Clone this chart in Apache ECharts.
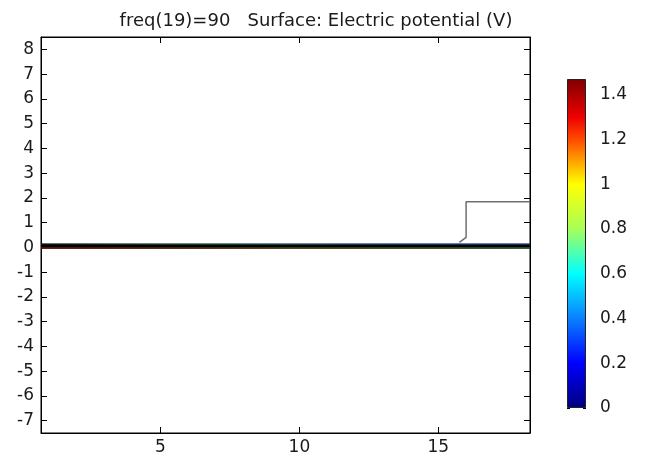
<!DOCTYPE html>
<html><head><meta charset="utf-8">
<script src="https://cdn.jsdelivr.net/npm/echarts@6/dist/echarts.min.js"></script>
<style>html,body{margin:0;padding:0;background:#fff}#c{width:647px;height:461px}</style>
</head><body><div id="c"></div>
<script>
// ---- data ----
const titleText = 'freq(19)=90   Surface: Electric potential (V)';
const xRange = [0.7, 18.3];
const yRange = [-7.5, 8.5];
const xTicks = [5, 10, 15];
const yTicks = [-7, -6, -5, -4, -3, -2, -1, 0, 1, 2, 3, 4, 5, 6, 7, 8];
// boundary polyline (gray) [x, y]
const boundaryX = [15.76, 16.0, 16.0, 18.3];
const boundaryY = [0.2, 0.4, 1.84, 1.84];
// thin surface strip along y = 0
const stripX = [0.7, 18.3];
const stripTopY = [0.13, 0.13];
const stripMidY = [0.05, 0.05];
const stripBotY = [-0.03, -0.03];
// colour bar
const cbMin = 0, cbMax = 1.47;
const cbTicks = [0, 0.2, 0.4, 0.6, 0.8, 1, 1.2, 1.4];
const cbStopValues = [0, 0.2, 0.4, 0.6, 0.8, 1.0, 1.2, 1.3, 1.47];
const cbStopColors = ['#00007f', '#0000ff', '#0a80ff', '#00ffff', '#a8ff58', '#ffff00', '#ff4a00', '#ee0000', '#7f0000'];

const chart = echarts.init(document.getElementById('c'), null, {renderer: 'canvas'});
const font = 'DejaVu Sans';
const txt = '#1a1a1a';
const pairs = (xs, ys) => xs.map((x, i) => [x, ys[i]]);

const gradH = (cols) => new echarts.graphic.LinearGradient(0, 0, 1, 0,
  cols.map((c, i) => ({offset: i / (cols.length - 1), color: c})));
const gradV = new echarts.graphic.LinearGradient(0, 1, 0, 0,
  cbStopValues.map((v, i) => ({offset: (v - cbMin) / (cbMax - cbMin), color: cbStopColors[i]})));

const tick = (vals, len) => ({show: true, inside: true, length: len, lineStyle: {color: '#000'}, customValues: vals});
const line = {show: true, onZero: false, lineStyle: {color: '#000'}};

chart.setOption({
  animation: false,
  title: {text: titleText, left: 311, textAlign: 'center', top: 7,
    textStyle: {fontFamily: font, fontSize: 18, fontWeight: 'normal', color: txt}},
  grid: [
    {left: 41, top: 37, width: 489, height: 396, show: true, borderColor: '#000', borderWidth: 1, backgroundColor: '#fff'},
    {left: 567, top: 79, width: 19, height: 329, show: false}
  ],
  xAxis: [
    {gridIndex: 0, type: 'value', min: xRange[0], max: xRange[1],
      axisLine: line, axisTick: tick(xTicks, 6),
      axisLabel: {margin: 6, fontFamily: font, fontSize: 17, color: txt, customValues: xTicks},
      splitLine: {show: false}},
    {gridIndex: 0, type: 'value', position: 'top', min: xRange[0], max: xRange[1],
      axisLine: line, axisTick: tick(xTicks, 6),
      axisLabel: {show: false}, splitLine: {show: false}},
    {gridIndex: 1, type: 'category', data: ['cb'], show: false}
  ],
  yAxis: [
    {gridIndex: 0, type: 'value', min: yRange[0], max: yRange[1],
      axisLine: line, axisTick: tick(yTicks, 6),
      axisLabel: {margin: 7, fontFamily: font, fontSize: 17, color: txt, customValues: yTicks},
      splitLine: {show: false}},
    {gridIndex: 0, type: 'value', position: 'right', min: yRange[0], max: yRange[1],
      axisLine: line, axisTick: tick(yTicks, 6),
      axisLabel: {show: false}, splitLine: {show: false}},
    {gridIndex: 1, type: 'value', position: 'right', min: cbMin, max: cbMax,
      axisLine: {show: false}, axisTick: tick(cbTicks, 3),
      axisLabel: {margin: 14, fontFamily: font, fontSize: 17, color: txt, customValues: cbTicks},
      splitLine: {show: false}},
    {gridIndex: 1, type: 'value', position: 'left', min: cbMin, max: cbMax,
      axisLine: {show: false}, axisTick: tick(cbTicks, 3),
      axisLabel: {show: false}, splitLine: {show: false}}
  ],
  series: [
    {type: 'line', xAxisIndex: 0, yAxisIndex: 0, data: pairs(stripX, stripMidY), symbol: 'none',
      lineStyle: {color: '#000', width: 5}, z: 3},
    {type: 'line', xAxisIndex: 0, yAxisIndex: 0, data: pairs(stripX, stripTopY), symbol: 'none',
      lineStyle: {color: gradH(['#0d1a10', '#1f4a2c', '#1c5560', '#1c3f86', '#1d3a9a']), width: 1.2}, z: 4},
    {type: 'line', xAxisIndex: 0, yAxisIndex: 0, data: pairs(stripX, stripBotY), symbol: 'none',
      lineStyle: {color: gradH(['#6a1410', '#5a2a12', '#4e4a14', '#3c5a20', '#2a6a30']), width: 1.5}, z: 4},
    {type: 'line', xAxisIndex: 0, yAxisIndex: 0, data: pairs(boundaryX, boundaryY), symbol: 'none',
      lineStyle: {color: '#6e6e6e', width: 1.5}, z: 5},
    {type: 'bar', xAxisIndex: 2, yAxisIndex: 2, data: [cbMax], barWidth: '100%',
      itemStyle: {color: gradV, borderColor: '#222', borderWidth: 1}, z: 1}
  ]
});
</script></body></html>
